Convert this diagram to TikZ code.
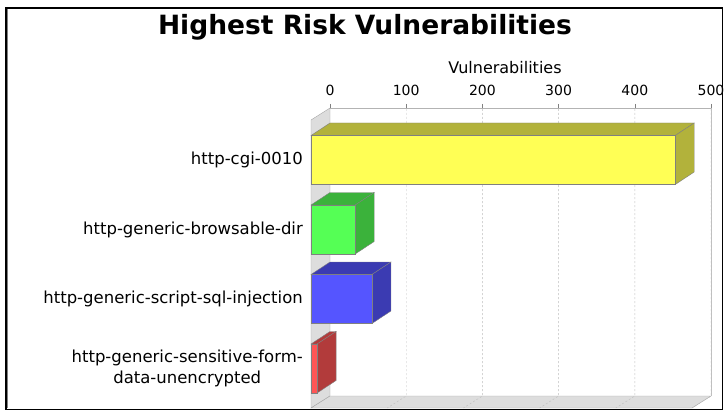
\documentclass[tikz,border=0pt]{standalone}
\usepackage{fontspec}
\setmainfont{DejaVu Sans}
\usepackage{tikz}
\usetikzlibrary{calc}
\definecolor{baryellow}{HTML}{FFFF55}
\definecolor{baryellowdark}{HTML}{B2B23B}
\definecolor{bargreen}{HTML}{55FF55}
\definecolor{bargreendark}{HTML}{3BB23B}
\definecolor{barblue}{HTML}{5555FF}
\definecolor{barbluedark}{HTML}{3B3BB2}
\definecolor{barred}{HTML}{FF5555}
\definecolor{barreddark}{HTML}{B23B3B}
\definecolor{wallgray}{HTML}{DDDDDD}
\definecolor{edgegray}{HTML}{808080}
\definecolor{gridgray}{HTML}{BDBDBD}

% one 3d bar: centre y, value, front colour, dark colour
\newcommand{\vulnbar}[4]{%
  \pgfmathsetmacro{\xr}{311+#2*0.762}
  \filldraw[#4,draw=edgegray] (311,#1-24.5) -- ++(19,-12.5) -- (\xr+19,#1-37) -- (\xr,#1-24.5) -- cycle;
  \filldraw[#4,draw=edgegray] (\xr,#1-24.5) -- ++(19,-12.5) -- ++(0,49) -- (\xr,#1+24.5) -- cycle;
  \filldraw[#3,draw=edgegray] (311,#1-24.5) rectangle (\xr,#1+24.5);
}

\begin{document}
\begin{tikzpicture}[x=1pt,y=-1pt,
  catlabel/.style={anchor=east,inner sep=0pt,font=\fontsize{16.5}{21}\selectfont,align=center},
  ticklabel/.style={font=\fontsize{14}{16}\selectfont}]
  \useasboundingbox (0,0) rectangle (727,414);
  % frame
  \draw[line width=1.4] (6,8) rectangle (722.5,409.5);
  \draw[gray,line width=0.7] (7.5,9.5) -- (7.5,408.3);
  % title and axis name
  \node[font=\fontsize{26.5}{30}\bfseries] (title) at (365,27) {Highest Risk Vulnerabilities};
  \node[font=\fontsize{16}{19}\selectfont] (axisname) at (505,68) {Vulnerabilities};
  % walls
  \filldraw[wallgray,draw=edgegray!70] (311,120) -- (330,108) -- (330,396) -- (311,408) -- cycle;
  \filldraw[wallgray,draw=edgegray!70] (311,408) -- (330,396) -- (711,396) -- (692,408) -- cycle;
  \draw[edgegray!50] (711,108) -- (711,396);
  \draw[edgegray!60] (330,108) -- (711,108);
  % grid, ticks and tick labels
  \foreach \v in {0,100,...,500} {
    \pgfmathsetmacro{\gx}{330+\v*0.762}
    \draw[edgegray] (\gx,104) -- (\gx,108);
    \node[ticklabel] (t\v) at (\gx,90) {\v};
  }
  \foreach \v in {100,200,...,500} {
    \pgfmathsetmacro{\gx}{330+\v*0.762}
    \draw[gridgray,dash pattern=on 2pt off 2pt] (\gx,109) -- (\gx,396) -- (\gx-19,408);
  }
  % bars
  \vulnbar{160}{478}{baryellow}{baryellowdark}
  \vulnbar{229.5}{58}{bargreen}{bargreendark}
  \vulnbar{299}{80}{barblue}{barbluedark}
  \vulnbar{368.5}{8}{barred}{barreddark}
  % category labels
  \node[catlabel] (cgi) at (303,160) {http-cgi-0010};
  \node[catlabel] (browse) at (303,229.5) {http-generic-browsable-dir};
  \node[catlabel] (sqlinj) at (303,299) {http-generic-script-sql-injection};
  \node[catlabel] (sensitive) at (303,368.5) {http-generic-sensitive-form-\\data-unencrypted};
\end{tikzpicture}
\end{document}
